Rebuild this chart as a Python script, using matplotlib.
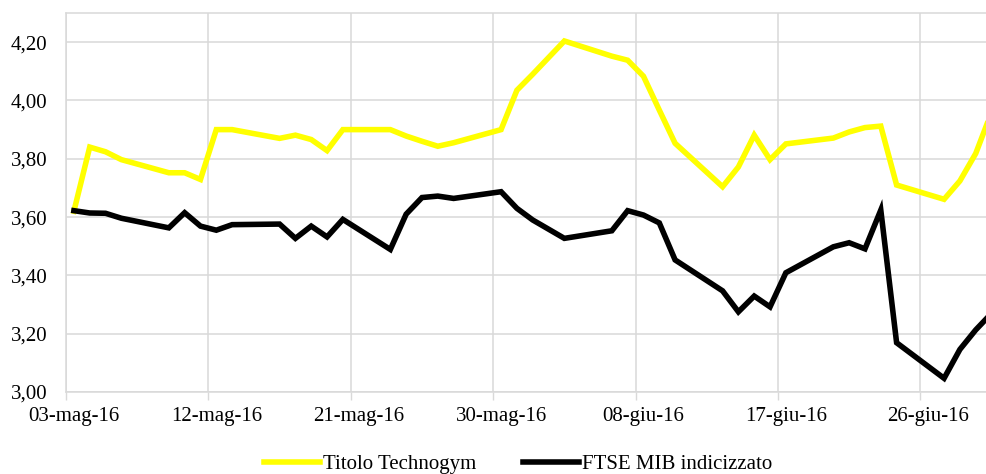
import matplotlib
matplotlib.use("Agg")
import matplotlib.pyplot as plt
import matplotlib.dates as mdates
from matplotlib.ticker import FixedLocator, FuncFormatter, NullFormatter
import pandas as pd

dates = ["2016-05-03", "2016-05-04", "2016-05-05", "2016-05-06", "2016-05-09",
         "2016-05-10", "2016-05-11", "2016-05-12", "2016-05-13", "2016-05-16",
         "2016-05-17", "2016-05-18", "2016-05-19", "2016-05-20", "2016-05-23",
         "2016-05-24", "2016-05-25", "2016-05-26", "2016-05-27", "2016-05-30",
         "2016-05-31", "2016-06-01", "2016-06-03", "2016-06-06", "2016-06-07",
         "2016-06-08", "2016-06-09", "2016-06-10", "2016-06-13", "2016-06-14",
         "2016-06-15", "2016-06-16", "2016-06-17", "2016-06-20", "2016-06-21",
         "2016-06-22", "2016-06-23", "2016-06-24", "2016-06-27", "2016-06-28",
         "2016-06-29", "2016-06-30"]

technogym = [3.620, 3.840, 3.824, 3.797, 3.752, 3.752, 3.729, 3.900, 3.900, 3.870,
             3.881, 3.866, 3.828, 3.900, 3.900, 3.878, 3.860, 3.843, 3.855, 3.900,
             4.035, 4.090, 4.204, 4.152, 4.138, 4.083, 3.967, 3.853, 3.704, 3.772,
             3.881, 3.797, 3.851, 3.871, 3.892, 3.907, 3.912, 3.710, 3.661, 3.724,
             3.818, 3.960]

ftse_mib = [3.622, 3.614, 3.613, 3.596, 3.563, 3.615, 3.569, 3.555, 3.574, 3.576,
            3.527, 3.569, 3.532, 3.592, 3.489, 3.610, 3.667, 3.672, 3.664, 3.687,
            3.630, 3.590, 3.527, 3.553, 3.622, 3.607, 3.580, 3.453, 3.347, 3.275,
            3.329, 3.292, 3.409, 3.498, 3.512, 3.491, 3.624, 3.169, 3.047, 3.146,
            3.213, 3.270]

tick_dates = ["2016-05-03", "2016-05-12", "2016-05-21", "2016-05-30",
              "2016-06-08", "2016-06-17", "2016-06-26"]
tick_labels = ["03-mag-16", "12-mag-16", "21-mag-16", "30-mag-16",
               "08-giu-16", "17-giu-16", "26-giu-16"]

y_ticks = [3.0, 3.2, 3.4, 3.6, 3.8, 4.0, 4.2]

series_names = ["Titolo Technogym", "FTSE MIB indicizzato"]
series_colors = ["#FFFF00", "#000000"]

plt.rcParams['font.family'] = ['Liberation Serif', 'DejaVu Serif']

W, H = 986, 474
fig = plt.figure(figsize=(W / 100, H / 100), dpi=100)
ax = fig.add_axes([66 / W, (H - 392) / H, (986 - 66) / W, (392 - 13) / H])

# points sit in the middle of their day slot (Excel date axis, between tick marks)
half_day = pd.Timedelta(hours=12)
x = pd.to_datetime(dates) + half_day
ax.plot(x, technogym, color=series_colors[0], lw=4.0, solid_joinstyle='miter',
        label=series_names[0], zorder=3)
ax.plot(x, ftse_mib, color=series_colors[1], lw=4.0, solid_joinstyle='miter',
        label=series_names[1], zorder=4)

start = pd.Timestamp("2016-05-03")
ax.set_xlim(mdates.date2num(start), mdates.date2num(start) + 58.15)
ax.set_ylim(3.0, 4.3)

grid_c = "#D9D9D9"
major = [mdates.date2num(pd.Timestamp(d)) for d in tick_dates]
minor = [mdates.date2num(pd.Timestamp(d) + half_day) for d in tick_dates]
ax.xaxis.set_major_locator(FixedLocator(major))
ax.xaxis.set_major_formatter(NullFormatter())
ax.xaxis.set_minor_locator(FixedLocator(minor))
lab_map = dict(zip([round(m, 3) for m in minor], tick_labels))
ax.xaxis.set_minor_formatter(FuncFormatter(lambda v, p: lab_map.get(round(v, 3), "")))

ax.tick_params(axis='x', which='major', length=6, width=1, color=grid_c)
ax.tick_params(axis='x', which='minor', length=0, pad=11, labelsize=15, labelcolor='#000000')

ax.set_yticks(y_ticks)
ax.yaxis.set_major_formatter(FuncFormatter(lambda v, p: f"{v:.2f}".replace(".", ",")))
ax.tick_params(axis='y', length=0, pad=13.5, labelsize=15, labelcolor='#000000')

ax.grid(True, which='major', color=grid_c, lw=1.1)
ax.set_axisbelow(True)
for s in ["left", "bottom", "top"]:
    ax.spines[s].set_color(grid_c)
    ax.spines[s].set_linewidth(1.1)
ax.spines["right"].set_visible(False)

fig.legend(loc='center', bbox_to_anchor=(518 / W, 1 - 464 / H), ncol=2, frameon=False,
           fontsize=15, handlelength=2.7, handletextpad=0.12, columnspacing=2.25,
           borderpad=0, borderaxespad=0)

fig.savefig("out.png", dpi=100)
